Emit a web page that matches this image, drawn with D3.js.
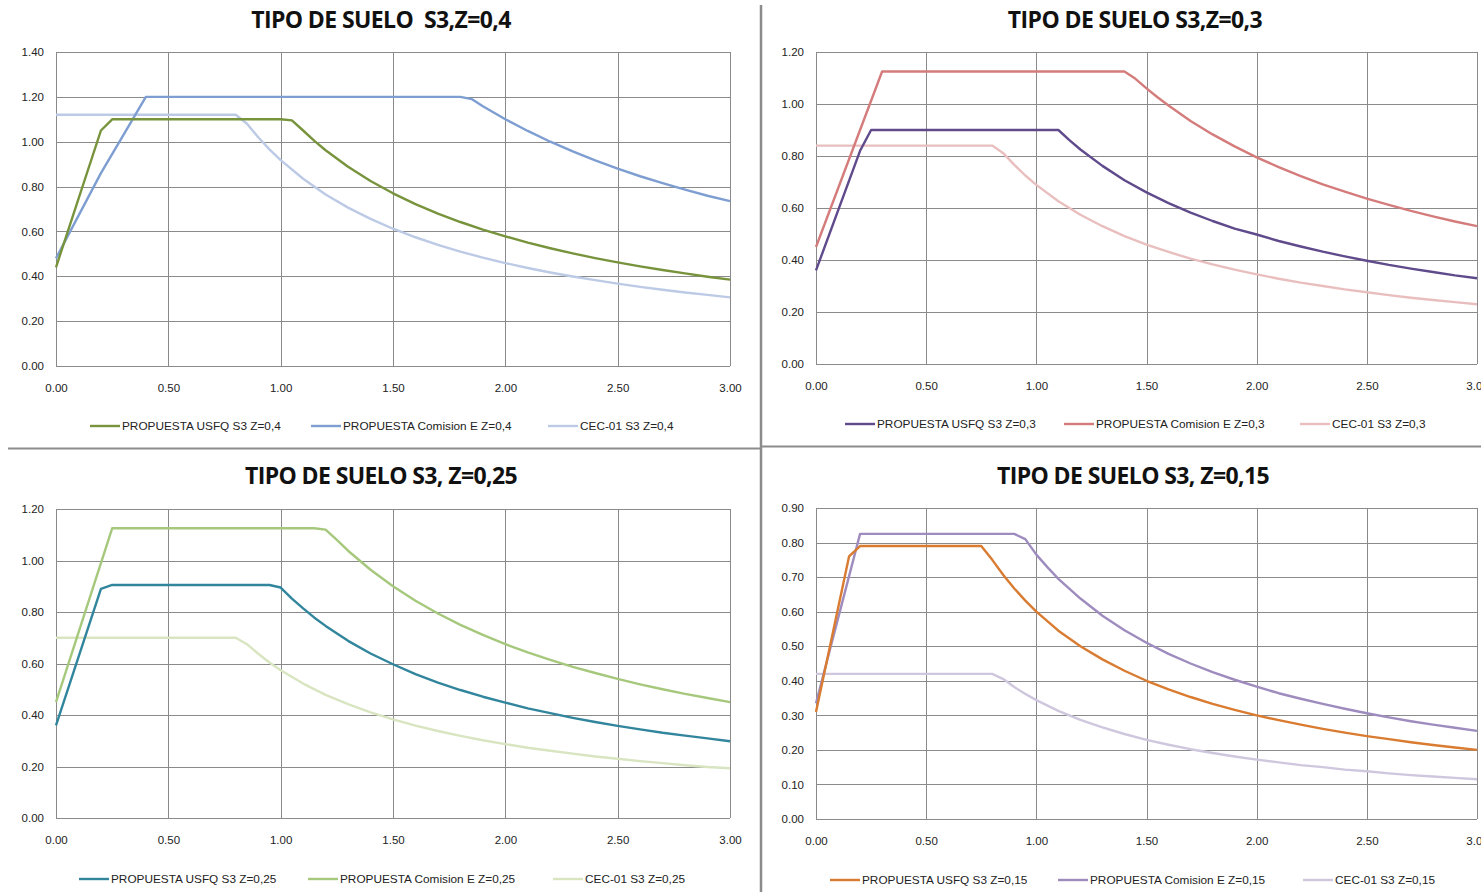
<!DOCTYPE html>
<html>
<head>
<meta charset="utf-8">
<script src="https://cdn.jsdelivr.net/npm/d3@7"></script>
<style>
  body { margin: 0; background: #fff; }
  svg { display: block; font-family: "Liberation Sans", Arial, sans-serif; }
</style>
</head>
<body>
<div class="chart"></div>
<script>
// periodo T (s), aceleracion espectral
// Z = 0,4
var usfq04 = [[0,0.44],[0.2,1.05],[0.25,1.10],[1.0,1.10],[1.05,1.095],[1.1,1.05],[1.15,1.004],[1.2,0.962],[1.3,0.888],[1.4,0.825],[1.5,0.77],[1.6,0.722],[1.7,0.679],[1.8,0.642],[1.9,0.608],[2.0,0.578],[2.1,0.55],[2.2,0.525],[2.3,0.502],[2.4,0.481],[2.5,0.462],[2.6,0.444],[2.7,0.428],[2.8,0.413],[2.9,0.398],[3.0,0.385]];
var comision04 = [[0,0.48],[0.2,0.86],[0.4,1.20],[1.8,1.20],[1.85,1.19],[1.9,1.158],[2.0,1.10],[2.1,1.048],[2.2,1.0],[2.3,0.957],[2.4,0.917],[2.5,0.88],[2.6,0.846],[2.7,0.815],[2.8,0.786],[2.9,0.759],[3.0,0.735]];
var cec04 = [[0,1.12],[0.8,1.12],[0.85,1.08],[0.9,1.02],[0.95,0.966],[1.0,0.918],[1.1,0.835],[1.2,0.765],[1.3,0.706],[1.4,0.656],[1.5,0.612],[1.6,0.574],[1.7,0.54],[1.8,0.51],[1.9,0.483],[2.0,0.459],[2.1,0.437],[2.2,0.417],[2.3,0.399],[2.4,0.383],[2.5,0.367],[2.6,0.353],[2.7,0.34],[2.8,0.328],[2.9,0.317],[3.0,0.306]];

// Z = 0,3
var usfq03 = [[0,0.36],[0.2,0.82],[0.25,0.90],[1.1,0.90],[1.15,0.861],[1.2,0.825],[1.3,0.762],[1.4,0.707],[1.5,0.66],[1.6,0.619],[1.7,0.582],[1.8,0.55],[1.9,0.521],[2.0,0.498],[2.1,0.473],[2.2,0.452],[2.3,0.432],[2.4,0.414],[2.5,0.397],[2.6,0.381],[2.7,0.367],[2.8,0.354],[2.9,0.341],[3.0,0.33]];
var comision03 = [[0,0.45],[0.3,1.125],[1.4,1.125],[1.45,1.097],[1.5,1.06],[1.55,1.026],[1.6,0.994],[1.7,0.935],[1.8,0.883],[1.9,0.837],[2.0,0.795],[2.1,0.757],[2.2,0.723],[2.3,0.691],[2.4,0.663],[2.5,0.636],[2.6,0.612],[2.7,0.589],[2.8,0.568],[2.9,0.548],[3.0,0.53]];
var cec03 = [[0,0.84],[0.8,0.84],[0.85,0.811],[0.9,0.766],[0.95,0.725],[1.0,0.689],[1.1,0.626],[1.2,0.574],[1.3,0.53],[1.4,0.492],[1.5,0.459],[1.6,0.431],[1.7,0.405],[1.8,0.383],[1.9,0.363],[2.0,0.345],[2.1,0.328],[2.2,0.313],[2.3,0.3],[2.4,0.287],[2.5,0.276],[2.6,0.265],[2.7,0.255],[2.8,0.246],[2.9,0.238],[3.0,0.23]];

// Z = 0,25
var usfq025 = [[0,0.36],[0.2,0.89],[0.25,0.905],[0.95,0.905],[1.0,0.895],[1.05,0.852],[1.1,0.814],[1.15,0.778],[1.2,0.746],[1.3,0.688],[1.4,0.639],[1.5,0.597],[1.6,0.559],[1.7,0.526],[1.8,0.497],[1.9,0.471],[2.0,0.448],[2.1,0.426],[2.2,0.407],[2.3,0.389],[2.4,0.373],[2.5,0.358],[2.6,0.344],[2.7,0.331],[2.8,0.32],[2.9,0.309],[3.0,0.298]];
var comision025 = [[0,0.45],[0.25,1.125],[1.15,1.125],[1.2,1.12],[1.25,1.08],[1.3,1.038],[1.4,0.964],[1.5,0.9],[1.6,0.844],[1.7,0.794],[1.8,0.75],[1.9,0.711],[2.0,0.675],[2.1,0.643],[2.2,0.614],[2.3,0.587],[2.4,0.563],[2.5,0.54],[2.6,0.519],[2.7,0.5],[2.8,0.482],[2.9,0.466],[3.0,0.45]];
var cec025 = [[0,0.70],[0.8,0.70],[0.85,0.675],[0.9,0.638],[0.95,0.604],[1.0,0.574],[1.1,0.522],[1.2,0.478],[1.3,0.442],[1.4,0.41],[1.5,0.383],[1.6,0.359],[1.7,0.338],[1.8,0.319],[1.9,0.302],[2.0,0.287],[2.1,0.273],[2.2,0.261],[2.3,0.25],[2.4,0.239],[2.5,0.23],[2.6,0.221],[2.7,0.213],[2.8,0.205],[2.9,0.198],[3.0,0.193]];

// Z = 0,15
var usfq015 = [[0,0.31],[0.15,0.76],[0.2,0.79],[0.75,0.79],[0.8,0.75],[0.85,0.706],[0.9,0.667],[0.95,0.632],[1.0,0.60],[1.1,0.545],[1.2,0.50],[1.3,0.462],[1.4,0.429],[1.5,0.40],[1.6,0.375],[1.7,0.353],[1.8,0.333],[1.9,0.316],[2.0,0.30],[2.1,0.286],[2.2,0.273],[2.3,0.261],[2.4,0.25],[2.5,0.24],[2.6,0.231],[2.7,0.222],[2.8,0.214],[2.9,0.207],[3.0,0.20]];
var comision015 = [[0,0.335],[0.2,0.825],[0.9,0.825],[0.95,0.81],[1.0,0.765],[1.05,0.729],[1.1,0.695],[1.2,0.638],[1.3,0.588],[1.4,0.546],[1.5,0.51],[1.6,0.478],[1.7,0.45],[1.8,0.425],[1.9,0.403],[2.0,0.383],[2.1,0.364],[2.2,0.348],[2.3,0.333],[2.4,0.319],[2.5,0.306],[2.6,0.294],[2.7,0.283],[2.8,0.273],[2.9,0.264],[3.0,0.255]];
var cec015 = [[0,0.42],[0.8,0.42],[0.85,0.405],[0.9,0.382],[0.95,0.362],[1.0,0.344],[1.1,0.313],[1.2,0.287],[1.3,0.265],[1.4,0.246],[1.5,0.229],[1.6,0.215],[1.7,0.202],[1.8,0.191],[1.9,0.181],[2.0,0.172],[2.1,0.164],[2.2,0.156],[2.3,0.15],[2.4,0.143],[2.5,0.138],[2.6,0.132],[2.7,0.127],[2.8,0.123],[2.9,0.119],[3.0,0.115]];

var xTicks = [0, 0.5, 1.0, 1.5, 2.0, 2.5, 3.0];
var yTicks04 = [0, 0.2, 0.4, 0.6, 0.8, 1.0, 1.2, 1.4];
var yTicks03 = [0, 0.2, 0.4, 0.6, 0.8, 1.0, 1.2];
var yTicks025 = [0, 0.2, 0.4, 0.6, 0.8, 1.0, 1.2];
var yTicks015 = [0, 0.1, 0.2, 0.3, 0.4, 0.5, 0.6, 0.7, 0.8, 0.9];

var titles = ["TIPO DE SUELO  S3,Z=0,4", "TIPO DE SUELO S3,Z=0,3", "TIPO DE SUELO S3, Z=0,25", "TIPO DE SUELO S3, Z=0,15"];
var labels04 = ["PROPUESTA USFQ S3 Z=0,4", "PROPUESTA Comision E Z=0,4", "CEC-01 S3 Z=0,4"];
var labels03 = ["PROPUESTA USFQ S3 Z=0,3", "PROPUESTA Comision E Z=0,3", "CEC-01 S3 Z=0,3"];
var labels025 = ["PROPUESTA USFQ S3 Z=0,25", "PROPUESTA Comision E Z=0,25", "CEC-01 S3 Z=0,25"];
var labels015 = ["PROPUESTA USFQ S3 Z=0,15", "PROPUESTA Comision E Z=0,15", "CEC-01 S3 Z=0,15"];

var panels = [
  { title: titles[0], tx: 381, ty: 28, left: 56, right: 730, top: 52, bottom: 366, yTicks: yTicks04,
    series: [usfq04, comision04, cec04], labels: labels04,
    colors: ["#77933c", "#7e9ed2", "#bccae6"], legY: 426, legX: [90, 311, 548] },
  { title: titles[1], tx: 1135, ty: 28, left: 816, right: 1477, top: 52, bottom: 364, yTicks: yTicks03,
    series: [usfq03, comision03, cec03], labels: labels03,
    colors: ["#5f4a8b", "#d47c7c", "#e8bfbe"], legY: 424, legX: [845, 1064, 1300] },
  { title: titles[2], tx: 381, ty: 484, left: 56, right: 730, top: 509, bottom: 818, yTicks: yTicks025,
    series: [usfq025, comision025, cec025], labels: labels025,
    colors: ["#31859c", "#a6c87c", "#d8e5c0"], legY: 879, legX: [79, 308, 553] },
  { title: titles[3], tx: 1133, ty: 484, left: 816, right: 1477, top: 508, bottom: 819, yTicks: yTicks015,
    series: [usfq015, comision015, cec015], labels: labels015,
    colors: ["#d97b30", "#9e8cbf", "#cfc7de"], legY: 880, legX: [830, 1058, 1303] }
];

var width = 1481;
var height = 892;

var svg = d3.select(".chart")
  .append("svg")
  .attr("width", width)
  .attr("height", height);

// separadores entre graficos
svg.append("line").attr("x1", 761).attr("x2", 761).attr("y1", 5).attr("y2", height)
  .attr("stroke", "#8c8c8c").attr("stroke-width", 2.5);
svg.append("line").attr("x1", 8).attr("x2", 760).attr("y1", 448.5).attr("y2", 448.5)
  .attr("stroke", "#8c8c8c").attr("stroke-width", 2);
svg.append("line").attr("x1", 762).attr("x2", width).attr("y1", 446.5).attr("y2", 446.5)
  .attr("stroke", "#8c8c8c").attr("stroke-width", 2);

var fmt = d3.format(".2f");

panels.forEach(function(p) {
  var g = svg.append("g");
  var yMax = p.yTicks[p.yTicks.length - 1];

  var x = d3.scaleLinear().domain([0, 3]).range([p.left, p.right]);
  var y = d3.scaleLinear().domain([0, yMax]).range([p.bottom, p.top]);

  // titulo
  g.append("text")
    .attr("x", p.tx)
    .attr("y", p.ty)
    .attr("text-anchor", "middle")
    .style("font-size", "23px")
    .style("font-weight", "bold")
    .style("font-family", "'Open Sans', sans-serif")
    .style("letter-spacing", "-0.6px")
    .style("white-space", "pre")
    .style("fill", "#111")
    .text(p.title);

  // rejilla
  g.selectAll(".hgrid")
    .data(p.yTicks)
    .enter().append("line")
    .attr("x1", p.left).attr("x2", p.right)
    .attr("y1", function(d) { return Math.round(y(d)) + 0.5; })
    .attr("y2", function(d) { return Math.round(y(d)) + 0.5; })
    .attr("stroke", "#8a8a8a").attr("stroke-width", 1);

  g.selectAll(".vgrid")
    .data(xTicks)
    .enter().append("line")
    .attr("y1", p.top).attr("y2", p.bottom)
    .attr("x1", function(d) { return Math.round(x(d)) + 0.5; })
    .attr("x2", function(d) { return Math.round(x(d)) + 0.5; })
    .attr("stroke", "#8a8a8a").attr("stroke-width", 1);

  // ejes
  var xAxis = d3.axisBottom(x).tickValues(xTicks).tickFormat(fmt).tickSize(0).tickPadding(18);
  var yAxis = d3.axisLeft(y).tickValues(p.yTicks).tickFormat(fmt).tickSize(0).tickPadding(12);

  var gx = g.append("g")
    .attr("transform", "translate(0," + p.bottom + ")")
    .call(xAxis);
  var gy = g.append("g")
    .attr("transform", "translate(" + p.left + ",0)")
    .call(yAxis);

  [gx, gy].forEach(function(a) {
    a.select(".domain").remove();
    a.selectAll("text")
      .style("font-size", "11.5px")
      .style("font-family", "'Liberation Sans', Arial, sans-serif")
      .style("fill", "#222");
  });

  // curvas
  var line = d3.line()
    .x(function(d) { return x(d[0]); })
    .y(function(d) { return y(d[1]); });

  // dibujar CEC primero, luego Comision, luego USFQ
  [2, 1, 0].forEach(function(i) {
    g.append("path")
      .datum(p.series[i])
      .attr("d", line)
      .attr("fill", "none")
      .attr("stroke", p.colors[i])
      .attr("stroke-width", 2.4)
      .attr("stroke-linejoin", "round");
  });

  // leyenda
  p.labels.forEach(function(lab, i) {
    var lx = p.legX[i];
    g.append("line")
      .attr("x1", lx).attr("x2", lx + 30)
      .attr("y1", p.legY).attr("y2", p.legY)
      .attr("stroke", p.colors[i]).attr("stroke-width", 2.4);
    g.append("text")
      .attr("x", lx + 32)
      .attr("y", p.legY + 4)
      .style("font-size", "11.8px")
      .style("font-family", "'Liberation Sans', Arial, sans-serif")
      .style("fill", "#222")
      .text(lab);
  });
});
</script>
</body>
</html>
